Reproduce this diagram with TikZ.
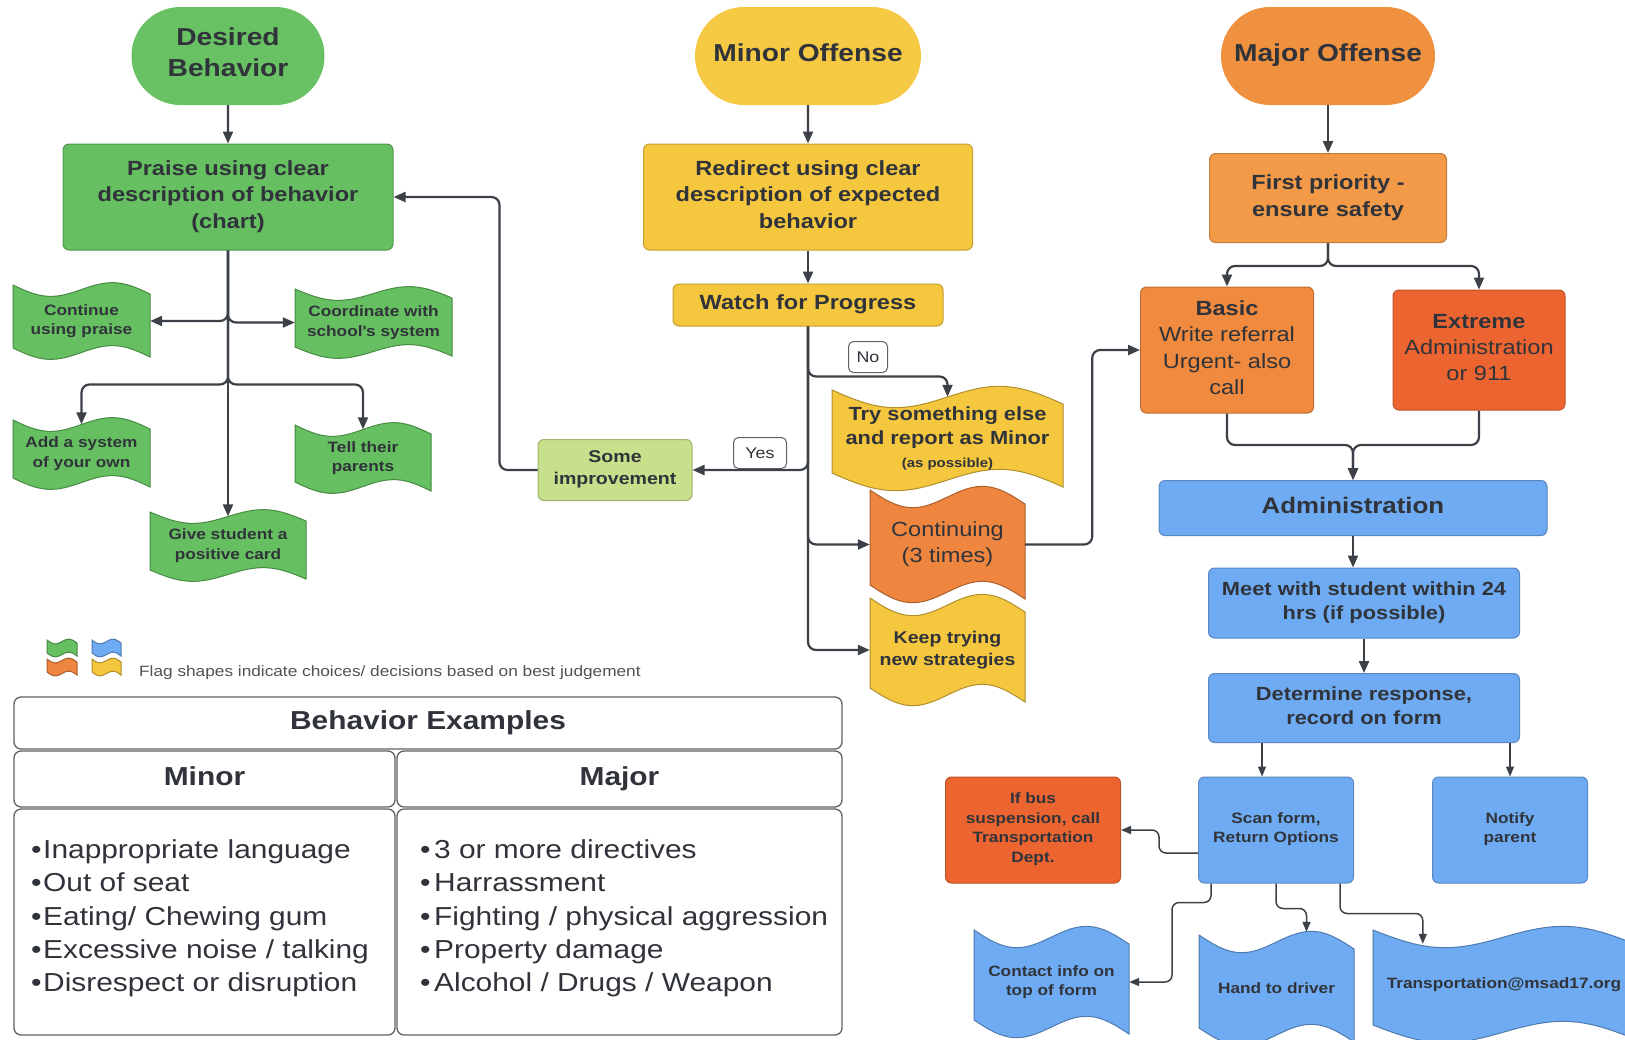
\documentclass[tikz,border=0pt]{standalone}
\usepackage{fontspec}
\setmainfont{Liberation Sans}[FakeStretch=1.15]
\usetikzlibrary{arrows.meta,positioning,calc,shapes.misc}

\definecolor{pgrn}{HTML}{68C263}
\definecolor{grn}{HTML}{66BF60}
\definecolor{ltgrn}{HTML}{C8E08C}
\definecolor{pylw}{HTML}{F6C944}
\definecolor{ylw}{HTML}{F5C73E}
\definecolor{porg}{HTML}{F0913F}
\definecolor{ltorg}{HTML}{F29A48}
\definecolor{borg}{HTML}{F08A3E}
\definecolor{corg}{HTML}{EF8640}
\definecolor{redorg}{HTML}{EC6530}
\definecolor{blu}{HTML}{6EABF2}
\definecolor{txt}{HTML}{30343A}
\definecolor{wire}{HTML}{3C4148}
\definecolor{rim}{HTML}{5E6166}

\newcommand{\fsPill}{\fontsize{24.5}{31}\selectfont\bfseries}
\newcommand{\fsBig}{\fontsize{20.5}{26.3}\selectfont\bfseries}
\newcommand{\fsReg}{\fontsize{20.5}{26.3}\selectfont}
\newcommand{\fsAdm}{\fontsize{22.5}{28}\selectfont\bfseries}
\newcommand{\fsMid}{\fontsize{19}{23.8}\selectfont\bfseries}
\newcommand{\fsSm}{\fontsize{17}{21.8}\selectfont\bfseries}
\newcommand{\fsTiny}{\fontsize{15}{19.7}\selectfont\bfseries}
\newcommand{\fsTag}{\fontsize{15.5}{18}\selectfont}
\newcommand{\fsTbl}{\fontsize{26}{33.3}\selectfont}
\newcommand{\fsTblB}{\fontsize{26}{30}\selectfont\bfseries}
\newcommand{\bul}[1]{\makebox[#1][l]{•}}

\tikzset{
  pill/.style={rounded rectangle, fill=#1, align=center, text=txt, font=\fsPill, inner sep=0, text depth=7},
  box/.style={rectangle, rounded corners=6, fill=#1, draw=#1!80!black, line width=1, align=center, text=txt, inner sep=2, text depth=5},
  flagline/.style={line width=1},
  flagtext/.style={align=center, text=txt, inner sep=0},
  tag/.style={draw=rim, fill=white, rounded corners=5, line width=1, text=txt, font=\fsTag, inner sep=0},
  cell/.style={draw=rim, rounded corners=7, line width=1.3, text=txt, inner sep=0, text height=19, text depth=6},
  listtext/.style={align=left, text=txt, font=\fsTbl, inner sep=0},
  conn/.style={draw=wire, line width=2.2, rounded corners=8, -{Triangle[length=12pt,width=10pt]}},
  thinconn/.style={draw=wire, line width=1.5, rounded corners=7, -{Triangle[length=10pt,width=8pt]}}
}

% name, x, y, width, height, colour, font, text
\newcommand{\flagshape}[8]{%
  \filldraw [flagline, fill=#6, draw=#6!72!black] plot [variable=\t, domain=0:1, samples=33] ({#2+#4*\t},{#3+\fk*\t+\fk*sin(360*\t)}) -- plot [variable=\t, domain=1:0, samples=33] ({#2+#4*\t},{#3+#5+\fk*\t+\fk*sin(360*\t)}) -- cycle;
  \node [flagtext, font=#7, minimum width=#4, minimum height=#5] (#1) at ({#2+#4/2},{#3+#5/2+\fk/2}) {#8};
}

\begin{document}
\begin{tikzpicture}[x=1pt,y=-1pt]
\useasboundingbox (0,0) rectangle (1625,1039);
\fill [white] (0,0) rectangle (1625,1039);

\node [pill=pgrn, minimum width=193, minimum height=98] (desired) at (228,56) {Desired\\Behavior};
\node [pill=pylw, minimum width=226, minimum height=98] (minor) at (808,56) {Minor Offense};
\node [pill=porg, minimum width=214, minimum height=98] (major) at (1328,56) {Major Offense};

\node [box=grn, font=\fsBig, minimum width=330, minimum height=106] (praise) at (228,197) {Praise using clear\\description of behavior\\(chart)};
\node [box=ylw, font=\fsBig, minimum width=329, minimum height=106] (redirect) at (808,197) {Redirect using clear\\description of expected\\behavior};
\node [box=ylw, font=\fsBig, minimum width=270, minimum height=42] (watch) at (808,305) {Watch for Progress};
\node [box=ltgrn, font=\fsSm, minimum width=154, minimum height=61] (improve) at (615,470) {Some\\improvement};

\node [box=ltorg, font=\fsBig, minimum width=237, minimum height=89] (first) at (1328,198) {First priority -\\ensure safety};
\node [box=borg, font=\fsReg, minimum width=173, minimum height=126] (basic) at (1227,350) {\textbf{Basic}\\Write referral\\Urgent- also\\call};
\node [box=redorg, font=\fsReg, minimum width=172, minimum height=120] (extreme) at (1479,350) {\textbf{Extreme}\\Administration\\or 911};
\node [box=blu, font=\fsAdm, minimum width=388, minimum height=55] (admin) at (1353,508) {Administration};
\node [box=blu, font=\fsMid, minimum width=311, minimum height=70] (meet) at (1364,603) {Meet with student within 24\\hrs (if possible)};
\node [box=blu, font=\fsMid, minimum width=311, minimum height=69] (determine) at (1364,708) {Determine response,\\record on form};
\node [box=blu, font=\fsTiny, minimum width=155, minimum height=106] (scan) at (1276,830) {Scan form,\\Return Options};
\node [box=blu, font=\fsTiny, minimum width=155, minimum height=106] (notify) at (1510,830) {Notify\\parent};
\node [box=redorg, font=\fsTiny, minimum width=175, minimum height=106] (bus) at (1033,830) {If bus\\suspension, call\\Transportation\\Dept.};

\def\fk{9}
\flagshape{cont}{13}{285}{137}{63}{grn}{\fsTiny}{Continue\\using praise}
\flagshape{coord}{295}{289}{157}{58}{grn}{\fsTiny}{Coordinate with\\school\textquotesingle s system}
\flagshape{addsys}{13}{420}{137}{58}{grn}{\fsTiny}{Add a system\\of your own}
\flagshape{tell}{295}{425}{136}{57}{grn}{\fsTiny}{Tell their\\parents}
\flagshape{give}{150}{512}{156}{58}{grn}{\fsTiny}{Give student a\\positive card}

\def\fk{14}
\flagshape{try}{832}{390}{231}{83}{ylw}{\fsMid}{Try something else\\and report as Minor\\{\fontsize{13}{15}\selectfont (as possible)}}
\flagshape{contin}{870}{490}{155}{95}{corg}{\fsReg}{Continuing\\(3 times)}
\flagshape{keep}{870}{598}{155}{90}{ylw}{\fsSm}{Keep trying\\new strategies}
\flagshape{contact}{974}{930}{155}{90}{blu}{\fsTiny}{Contact info on\\top of form}
\flagshape{hand}{1199}{935}{155}{93}{blu}{\fsTiny}{Hand to driver}
\flagshape{transp}{1373}{930}{262}{95}{blu}{\fsTiny}{Transportation@msad17.org}

\def\fk{3}
\flagshape{lgA}{47}{640}{30}{13}{grn}{}{}
\flagshape{lgB}{92}{640}{29}{13}{blu}{}{}
\flagshape{lgC}{47}{659}{30}{13}{corg}{}{}
\flagshape{lgD}{92}{659}{29}{13}{ylw}{}{}
\node [anchor=west, inner sep=0, text=txt!85, font=\fontsize{15}{18}\selectfont] (legend) at (139,673) {Flag shapes indicate choices/ decisions based on best judgement};

\node [tag, minimum width=39, minimum height=31] (notag) at (868,357) {No};
\node [tag, minimum width=53, minimum height=31] (yestag) at (760,453) {Yes};

\draw [conn] (desired) -- (praise);
\draw [conn] (minor) -- (redirect);
\draw [conn] (redirect) -- (watch);
\draw [conn] (major) -- (first);
\draw [conn] (praise.south) |- (cont.east);
\draw [conn] (praise.south) |- (coord.west);
\draw [conn] (praise.south) -- ++(0,134) -| (addsys.north);
\draw [conn] (praise.south) -- ++(0,134) -| (tell.north);
\draw [conn] (praise.south) -- (give.north);
\draw [conn] (watch.south) -- ++(0,50) -| (try.north);
\draw [conn] (watch.south) |- (improve.east);
\draw [conn] (watch.south) |- (contin.west);
\draw [conn] (watch.south) |- (keep.west);
\draw [conn] (improve.west) -- ++(-38,0) |- (praise.east);
\draw [conn] (contin.east) -- ++(67,0) |- (basic.west);
\draw [conn] (first.south) -- ++(0,23) -| (basic.north);
\draw [conn] (first.south) -- ++(0,23) -| (extreme.north);
\coordinate (merge) at (1353,445);
\draw [conn] (basic.south) |- (merge) -- (admin.north);
\draw [conn] (extreme.south) |- (merge) -- (admin.north);
\draw [conn] (admin.south) -- (admin.south |- meet.north);
\draw [conn] (meet.south) -- (determine.north);
\draw [thinconn] (determine.south -| 1262,0) -- (scan.north -| 1262,0);
\draw [thinconn] (determine.south -| notify.north) -- (notify.north);
\draw [thinconn] ([yshift=-23pt]scan.west) -- ++(-39,0) |- (bus.east);
\draw [thinconn] ([xshift=-65pt]scan.south) -- ++(0,19) -- ++(-39,0) |- (contact.east);
\draw [thinconn] (scan.south) -- ++(0,25) -| ($(hand.north)+(30,-10)$);
\draw [thinconn] ([xshift=64pt]scan.south) -- ++(0,30) -| ($(transp.north west)+(50,7)$);

\node [cell, minimum width=828, minimum height=52, font=\fsTblB] (extitle) at (428,723) {Behavior Examples};
\node [cell, minimum width=381, minimum height=56, font=\fsTblB] (minhead) at (204.5,779) {Minor};
\node [cell, minimum width=445, minimum height=56, font=\fsTblB] (majhead) at (619.5,779) {Major};
\node [cell, minimum width=381, minimum height=226, text height=0, text depth=0] (minbody) at (204.5,922) {};
\node [cell, minimum width=445, minimum height=226, text height=0, text depth=0] (majbody) at (619.5,922) {};
\node [listtext, anchor=west] (minlist) at (31,918.5) {\bul{12pt}Inappropriate language\\\bul{12pt}Out of seat\\\bul{12pt}Eating/ Chewing gum\\\bul{12pt}Excessive noise / talking\\\bul{12pt}Disrespect or disruption};
\node [listtext, anchor=west] (majlist) at (420,918.5) {\bul{14pt}3 or more directives\\\bul{14pt}Harrassment\\\bul{14pt}Fighting / physical aggression\\\bul{14pt}Property damage\\\bul{14pt}Alcohol / Drugs / Weapon};
\end{tikzpicture}
\end{document}
